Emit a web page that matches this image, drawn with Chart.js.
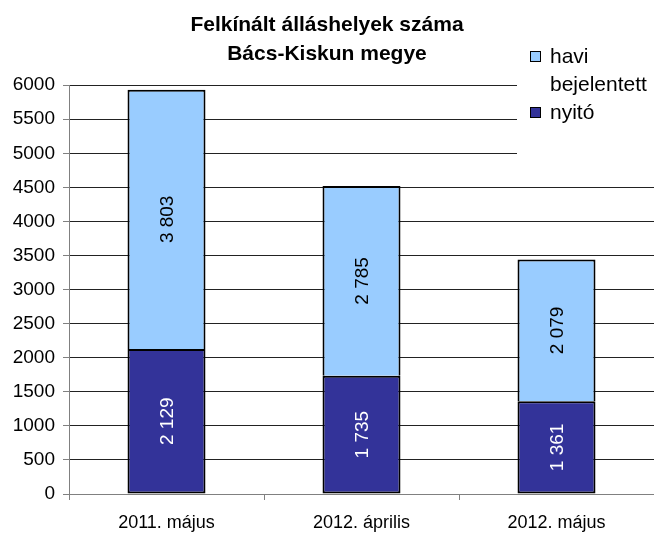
<!DOCTYPE html>
<html>
<head>
<meta charset="utf-8">
<script src="https://cdn.jsdelivr.net/npm/chart.js@4.4.1/dist/chart.umd.min.js"></script>
<style>
  html, body { margin: 0; padding: 0; background: #ffffff; }
  #wrap { width: 654px; height: 533px; }
</style>
</head>
<body>
<div id="wrap"><canvas id="c" width="654" height="533"></canvas></div>
<script>
const categories = ["2011. május", "2012. április", "2012. május"];
const nyito = [2129, 1735, 1361];
const haviBejelentett = [3803, 2785, 2079];
const titleLines = ["Felkínált álláshelyek száma", "Bács-Kiskun megye"];
const legendItems = [
  { lines: ["havi", "bejelentett"], color: "#99CCFF" },
  { lines: ["nyitó"], color: "#333399" }
];

const FONT = "'Liberation Sans', Arial, sans-serif";

function fmt(v) {
  return String(v).replace(/\B(?=(\d{3})+(?!\d))/g, " ");
}

const labelPlugin = {
  id: "segLabels",
  afterDatasetsDraw(chart) {
    const ctx = chart.ctx;
    chart.data.datasets.forEach((ds, di) => {
      const meta = chart.getDatasetMeta(di);
      meta.data.forEach((bar, i) => {
        const top = Math.min(bar.y, bar.base);
        const bot = Math.max(bar.y, bar.base);
        const cy = (top + bot) / 2;
        ctx.save();
        ctx.translate(bar.x, cy);
        ctx.rotate(-Math.PI / 2);
        ctx.font = "19px " + FONT;
        ctx.fillStyle = ds.labelColor;
        ctx.textAlign = "center";
        ctx.textBaseline = "middle";
        ctx.fillText(fmt(ds.data[i]), 0, 1);
        ctx.restore();
      });
    });
  }
};

const legendPlugin = {
  id: "sideLegend",
  afterDraw(chart) {
    const ctx = chart.ctx;
    ctx.save();
    ctx.fillStyle = "#ffffff";
    ctx.fillRect(517, 36, 137, 134);
    ctx.font = "21px " + FONT;
    ctx.textAlign = "left";
    ctx.textBaseline = "middle";
    let y = 57;
    legendItems.forEach(item => {
      ctx.fillStyle = item.color;
      ctx.fillRect(530.5, y - 5.5, 10, 10);
      ctx.strokeStyle = "#000000";
      ctx.lineWidth = 1;
      ctx.strokeRect(530.5, y - 5.5, 10, 10);
      ctx.fillStyle = "#000000";
      item.lines.forEach((ln, k) => {
        ctx.fillText(ln, 550, y + k * 28);
      });
      y += item.lines.length * 28;
    });
    ctx.restore();
  }
};

new Chart(document.getElementById("c"), {
  type: "bar",
  data: {
    labels: categories,
    datasets: [
      {
        label: "nyitó",
        data: nyito,
        backgroundColor: "#333399",
        borderColor: "#000000",
        borderWidth: 2,
        borderSkipped: false,
        labelColor: "#ffffff",
        barPercentage: 0.4,
        categoryPercentage: 1.0
      },
      {
        label: "havi bejelentett",
        data: haviBejelentett,
        backgroundColor: "#99CCFF",
        borderColor: "#000000",
        borderWidth: 2,
        borderSkipped: "bottom",
        labelColor: "#000000",
        barPercentage: 0.4,
        categoryPercentage: 1.0
      }
    ]
  },
  options: {
    responsive: false,
    animation: false,
    devicePixelRatio: 1,
    layout: { padding: { left: 0, right: 0, top: 0, bottom: 0 } },
    plugins: {
      legend: { display: false },
      tooltip: { enabled: false },
      title: {
        display: true,
        text: titleLines,
        color: "#000000",
        font: { family: FONT, size: 21, weight: "bold", lineHeight: 1.36 },
        padding: { top: 11, bottom: 17 }
      }
    },
    scales: {
      x: {
        stacked: true,
        afterFit(scale) { scale.height = 39; },
        grid: {
          display: true,
          drawOnChartArea: false,
          drawTicks: true,
          tickLength: 6,
          offset: true,
          color: "#808080"
        },
        border: { display: true, color: "#808080", width: 1 },
        ticks: {
          color: "#000000",
          font: { family: FONT, size: 18 },
          padding: 12
        }
      },
      y: {
        stacked: true,
        min: 0,
        max: 6000,
        afterFit(scale) { scale.width = 69; },
        grid: {
          color: "#222222",
          lineWidth: 1,
          drawTicks: true,
          tickLength: 6,
          tickColor: "#808080"
        },
        border: { display: true, color: "#808080", width: 1 },
        ticks: {
          stepSize: 500,
          color: "#000000",
          font: { family: FONT, size: 19 },
          padding: 8,
          callback: (v) => String(v)
        }
      }
    }
  },
  plugins: [labelPlugin, legendPlugin]
});
</script>
</body>
</html>
